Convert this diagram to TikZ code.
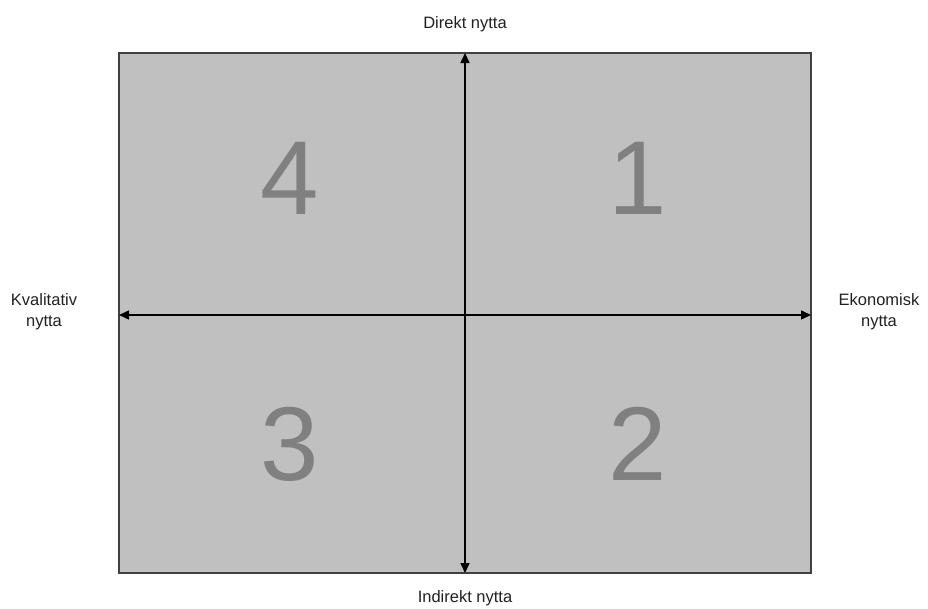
\documentclass[tikz,border=0pt]{standalone}
\usepackage{fontspec}
\setmainfont{Liberation Sans}
\usetikzlibrary{arrows.meta}
\definecolor{boxfill}{HTML}{C0C0C0}
\definecolor{boxline}{HTML}{404040}
\definecolor{numcol}{HTML}{808080}
\definecolor{labcol}{HTML}{202020}
\begin{document}
\begin{tikzpicture}[x=1pt,y=-1pt,
  quad/.style={font=\fontsize{105}{105}\selectfont, text=numcol, inner sep=0pt},
  lab/.style={font=\fontsize{16.5}{21}\selectfont, text=labcol, align=center, inner sep=0pt},
  axis/.style={line width=1.5pt, {Triangle[length=10pt,width=9pt]}-{Triangle[length=10pt,width=9pt]}}]
\useasboundingbox (0,0) rectangle (928,608);
\draw[fill=boxfill, draw=boxline, line width=1.3pt] (119,53) rectangle (811,573);
\coordinate (top) at (465,53);
\coordinate (bot) at (465,573);
\coordinate (lft) at (119,315);
\coordinate (rgt) at (811,315);
\node[quad] (q4) at (290,178) {4};
\node[quad] (q1) at (638,178) {1};
\node[quad] (q3) at (290,444) {3};
\node[quad] (q2) at (638,444) {2};
\draw[axis] (bot) -- (top);
\draw[axis] (lft) -- (rgt);
\node[lab] (dir) at (465,24) {Direkt nytta};
\node[lab] (ind) at (465,598) {Indirekt nytta};
\node[lab] (kval) at (44,312) {Kvalitativ\\nytta};
\node[lab] (eko) at (879,312) {Ekonomisk\\nytta};
\end{tikzpicture}
\end{document}
